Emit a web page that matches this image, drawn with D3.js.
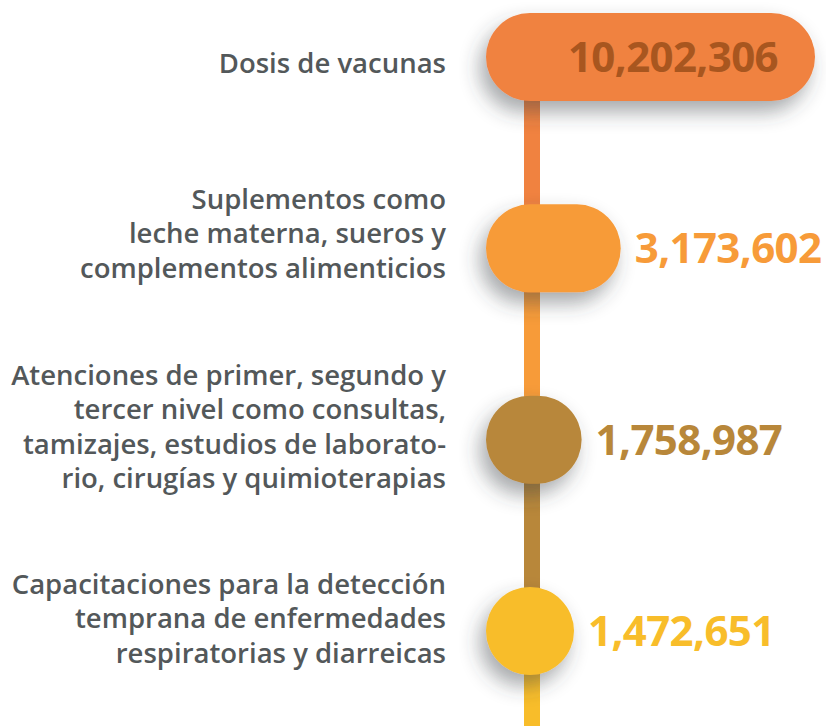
<!DOCTYPE html>
<html>
<head>
<meta charset="utf-8">
<script src="https://cdn.jsdelivr.net/npm/d3@7"></script>
<style>
  html, body { margin: 0; padding: 0; background: #fff; }
  svg { display: block; }
</style>
</head>
<body>
<svg id="chart" width="826" height="726"></svg>
<script>
// data
var categories = [
    ["Dosis de vacunas"],
    ["Suplementos como", "leche materna, sueros y", "complementos alimenticios"],
    ["Atenciones de primer, segundo y", "tercer nivel como consultas,", "tamizajes, estudios de laborato-", "rio, cirugías y quimioterapias"],
    ["Capacitaciones para la detección", "temprana de enfermedades", "respiratorias y diarreicas"]
];
var values = [10202306, 3173602, 1758987, 1472651];
var colors = ["#f08240", "#f79b39", "#b8873a", "#f8bd2a"];
var valueColors = ["#a8561f", "#f79b39", "#b8873a", "#f8bd2a"];

var svg = d3.select("#chart");
var width = +svg.attr("width");
var height = +svg.attr("height");

var pillX = 486;
var pillH = 88;
var lineX = 532;
var lineW = 16;
var labelRight = 446;
var lineHeight = 34.5;
var labelShift = [16, -5, -3, -3];

var idx = d3.range(values.length);

var y = d3.scalePoint()
    .domain(idx)
    .range([57, 631]);

var w = d3.scaleLinear()
    .domain([0, d3.max(values)])
    .range([47, 329]);

var pillWidth = function(i) { return Math.max(pillH, w(values[i])); };

var fmt = d3.format(",");

var defs = svg.append("defs");
var filter = defs.append("filter")
    .attr("id", "shadow")
    .attr("x", "-50%").attr("y", "-50%")
    .attr("width", "200%").attr("height", "200%");
filter.append("feDropShadow")
    .attr("dx", -6)
    .attr("dy", 11)
    .attr("stdDeviation", 10)
    .attr("flood-color", "#3a3f45")
    .attr("flood-opacity", 0.45);

// line segments, each one below its node
svg.append("g")
    .attr("class", "stem")
    .selectAll("rect")
    .data(idx)
    .enter().append("rect")
        .attr("x", lineX - lineW / 2)
        .attr("width", lineW)
        .attr("y", function(i) { return y(i); })
        .attr("height", function(i) { return (i < values.length - 1 ? y(i + 1) : height) - y(i); })
        .attr("fill", function(i) { return colors[i]; });

var nodes = svg.append("g")
    .attr("class", "nodes")
    .selectAll("g")
    .data(idx)
    .enter().append("g");

nodes.append("rect")
    .attr("x", pillX)
    .attr("y", function(i) { return y(i) - pillH / 2; })
    .attr("width", pillWidth)
    .attr("height", pillH)
    .attr("rx", pillH / 2)
    .attr("fill", function(i) { return colors[i]; })
    .attr("filter", "url(#shadow)");

nodes.append("text")
    .attr("x", function(i) { return i === 0 ? pillX + pillWidth(i) - 37 : pillX + pillWidth(i) + 14; })
    .attr("y", function(i) { return y(i); })
    .attr("dy", "0.36em")
    .attr("text-anchor", function(i) { return i === 0 ? "end" : "start"; })
    .attr("font-family", "'Open Sans', sans-serif")
    .attr("font-weight", 700)
    .attr("font-size", 42)
    .attr("letter-spacing", -0.6)
    .attr("fill", function(i) { return valueColors[i]; })
    .text(function(i) { return fmt(values[i]); });

var labels = svg.append("g")
    .attr("class", "labels")
    .selectAll("text")
    .data(idx)
    .enter().append("text")
        .attr("text-anchor", "end")
        .attr("font-family", "'Open Sans', sans-serif")
        .attr("font-weight", 600)
        .attr("font-size", 27.5)
        .attr("fill", "#53585a");

labels.selectAll("tspan")
    .data(function(i) {
        var lines = categories[i];
        var first = y(i) - (lines.length - 1) / 2 * lineHeight + labelShift[i];
        return lines.map(function(t, k) { return { t: t, y: first + k * lineHeight }; });
    })
    .enter().append("tspan")
        .attr("x", labelRight)
        .attr("y", function(d) { return d.y; })
        .text(function(d) { return d.t; });
</script>
</body>
</html>
